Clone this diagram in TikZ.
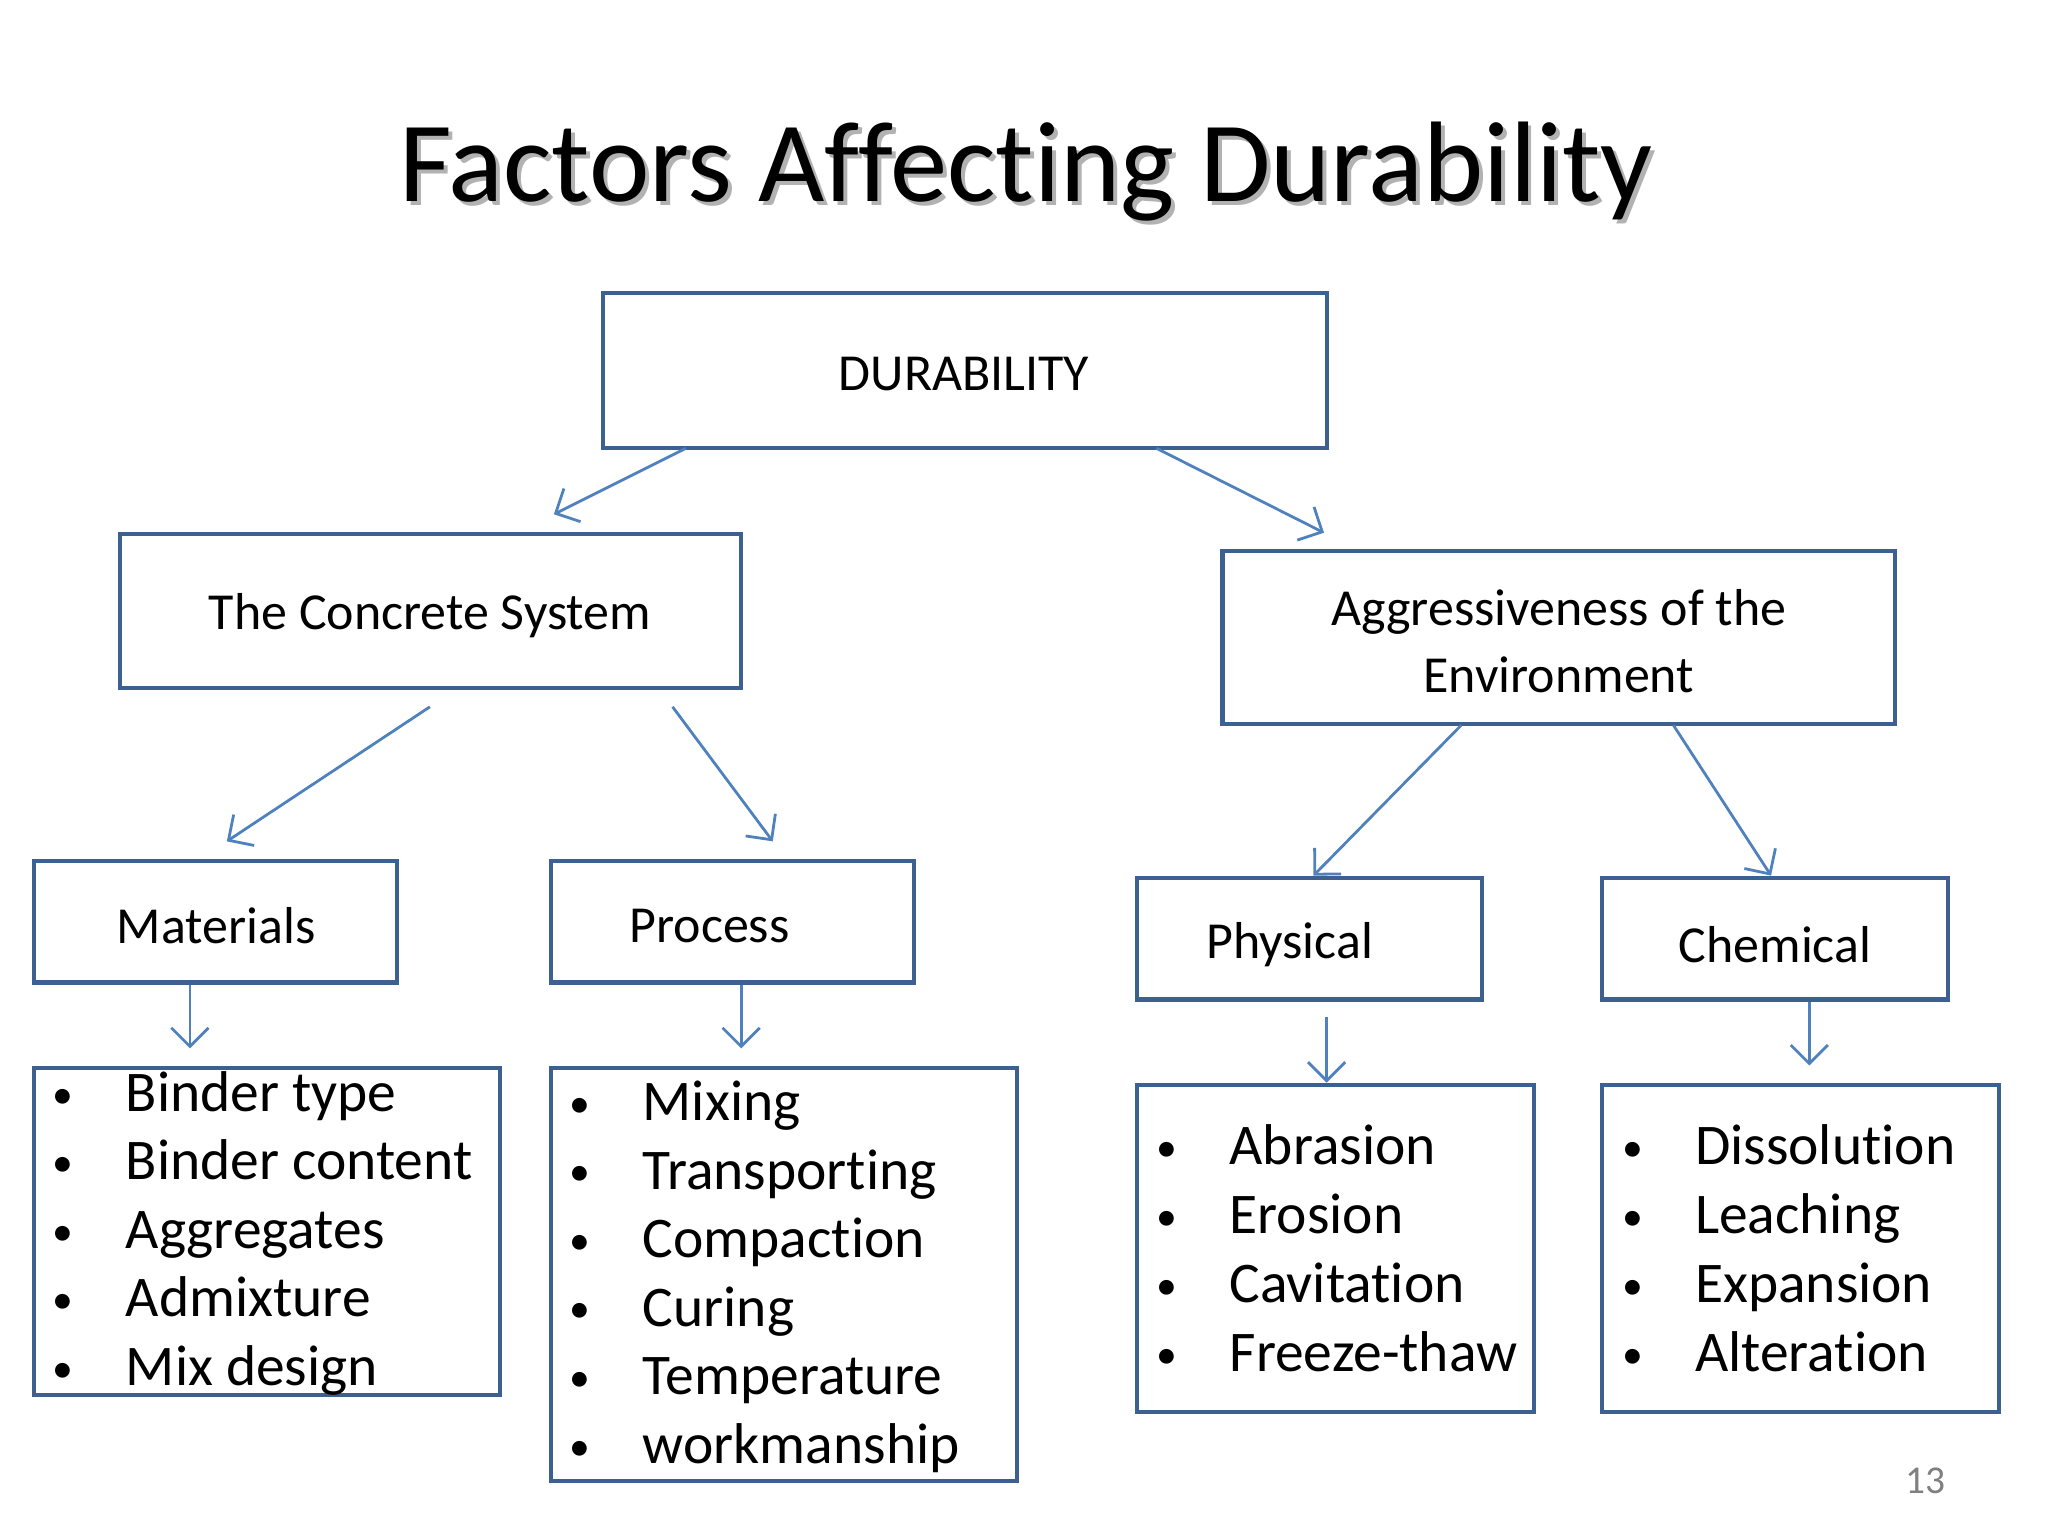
\documentclass[tikz,border=0pt]{standalone}
\usepackage{fontspec}
\setmainfont{Carlito}[Ligatures=NoCommon]
\usetikzlibrary{arrows.meta}
\definecolor{bx}{HTML}{3C6190}
\definecolor{ar}{HTML}{4F81BD}
\begin{document}
\begin{tikzpicture}[x=0.01cm,y=-0.01cm,
 box/.style={draw=bx,line width=0.9pt},
 lbl/.style={font=\fontsize{11.2}{13.5}\selectfont},
 itm/.style={anchor=west,font=\fontsize{12.4}{15}\selectfont,text height=1.6ex,text depth=0.45ex},
 bul/.style={font=\fontsize{9}{11}\selectfont},
 con/.style={draw=ar,line width=0.6pt,-{Straight Barb[length=4pt,width=8pt]}}]
\useasboundingbox (0,0) rectangle (1553,1165);
\node[gray!60,font=\fontsize{24.7}{30}\selectfont] at (781,133) {Factors Affecting Durability};
\node (title) [font=\fontsize{24.7}{30}\selectfont] at (778,130) {Factors Affecting Durability};
\draw[box] (457,222) rectangle (1006,340); \node[lbl] (dur) at (731,284) {DURABILITY};
\draw[box] (91,405) rectangle (562,522); \node[lbl] (cs) at (326,467) {The Concrete System};
\draw[box] (927,418) rectangle (1437,549); \node[lbl,align=center] (ag) at (1182,486) {Aggressiveness of the\\[1pt]Environment};
\draw[box] (26,653) rectangle (301,745); \node[lbl] (mat) at (164,702) {Materials};
\draw[box] (418,653) rectangle (693,745); \node[lbl] (pro) at (538,702) {Process};
\draw[box] (862,666) rectangle (1124,758); \node[lbl] (phy) at (978,716) {Physical};
\draw[box] (1215,666) rectangle (1477,758); \node[lbl] (che) at (1346,716) {Chemical};
\draw[box] (26,810) rectangle (379,1058);
\draw[box] (418,810) rectangle (771,1123);
\draw[box] (862,823) rectangle (1163,1071);
\draw[box] (1215,823) rectangle (1516,1071);
\foreach \t [count=\i] in {Binder type,Binder content,Aggregates,Admixture,Mix design}
 {\node[bul] at (48,{781+52*\i}) {•}; \node[itm] (m\i) at (83,{781+52*\i}) {\t};}
\foreach \t [count=\i] in {Mixing,Transporting,Compaction,Curing,Temperature,workmanship}
 {\node[bul] at (440,{788+52*\i}) {•}; \node[itm] (p\i) at (475,{788+52*\i}) {\t};}
\foreach \t [count=\i] in {Abrasion,Erosion,Cavitation,Freeze-thaw}
 {\node[bul] at (885,{821+52.3*\i}) {•}; \node[itm] (f\i) at (920,{821+52.3*\i}) {\t};}
\foreach \t [count=\i] in {Dissolution,Leaching,Expansion,Alteration}
 {\node[bul] at (1238,{821+52.3*\i}) {•}; \node[itm] (c\i) at (1273,{821+52.3*\i}) {\t};}
\node[gray,font=\fontsize{8.5}{10}\selectfont] (pg) at (1460,1123) {13};
\coordinate (a1) at (520,340); \coordinate (b1) at (420,390);
\coordinate (a2) at (877,340); \coordinate (b2) at (1004,404);
\coordinate (a3) at (326,536); \coordinate (b3) at (172,638);
\coordinate (a4) at (510,536); \coordinate (b4) at (586,638);
\coordinate (a5) at (1108,550); \coordinate (b5) at (996,664);
\coordinate (a6) at (1269,550); \coordinate (b6) at (1343,664);
\coordinate (a7) at (144,747); \coordinate (b7) at (144,795);
\coordinate (a8) at (562,747); \coordinate (b8) at (562,795);
\coordinate (a9) at (1006,771); \coordinate (b9) at (1006,821);
\coordinate (a10) at (1372,760); \coordinate (b10) at (1372,808);
\foreach \i in {1,...,10} \draw[con] (a\i) -- (b\i);
\end{tikzpicture}
\end{document}
